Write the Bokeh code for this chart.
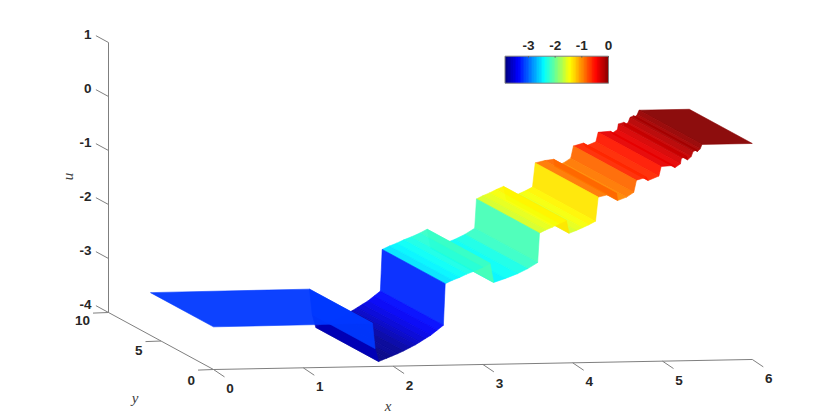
import math
import numpy as np
from bokeh.plotting import figure
from bokeh.embed import file_html
from bokeh.resources import INLINE
from bokeh.models import ColumnDataSource, Range1d
from bokeh.core.properties import value
from bokeh.transform import linear_cmap

# profile u(x) (surface is extruded along y)
x_vals = [0.00, 1.77, 1.80, 1.84, 1.88, 1.93, 1.99, 2.05, 2.12, 2.19, 2.25, 2.30, 2.36, 2.42, 2.49, 2.56, 2.58, 2.66, 2.74, 2.82, 2.90, 3.00, 3.08, 3.12, 3.25, 3.385, 3.50,
          3.61, 3.63, 3.70, 3.775, 3.85, 3.93, 3.96, 4.04, 4.11, 4.18, 4.254, 4.284, 4.39, 4.49, 4.50, 4.60, 4.68, 4.71, 4.82, 4.84, 4.96,
          4.985, 5.12, 5.14, 5.20, 5.21, 5.27, 5.28, 5.32, 5.34, 5.38, 5.39, 5.42, 5.44, 6.00]
u_vals = [-3.21, -3.20, -3.67, -3.91, -3.88, -3.85, -3.81, -3.77, -3.72, -3.66, -3.61, -3.56, -3.50, -3.44, -3.35, -3.26, -2.49, -2.43, -2.38, -2.32, -2.27, -2.20, -2.13, -2.485,
          -2.415, -2.33, -2.24, -2.13, -1.587, -1.53, -1.48, -1.42, -1.364, -1.60, -1.55, -1.50, -1.45, -1.385, -0.94, -0.90, -0.88, -1.01, -0.95,
          -0.864, -0.64, -0.59, -0.65, -0.57, -0.395, -0.38, -0.42, -0.35, -0.25, -0.22, -0.28, -0.22, -0.13, -0.10,
          -0.13, -0.08, 0.00, 0.00]
y_span = [0, 6]
x_ticks = [0, 1, 2, 3, 4, 5, 6]
y_ticks = [0, 5, 10]
u_ticks = [-4, -3, -2, -1, 0, 1]
cbar_ticks = [-3, -2, -1, 0]
cbar_low, cbar_high = -3.88, 0.0

# MATLAB-style jet colormap with 64 levels
def jet(t):
    r = min(max(min(4 * t - 1.5, -4 * t + 4.5), 0), 1)
    g = min(max(min(4 * t - 0.5, -4 * t + 3.5), 0), 1)
    b = min(max(min(4 * t + 0.5, -4 * t + 2.5), 0), 1)
    return "#%02x%02x%02x" % (round(r * 255), round(g * 255), round(b * 255))
palette = [jet((i + 0.5) / 64) for i in range(64)]

# orthographic view of the 3-D box onto page pixels
def proj(x, y, u):
    return 213 + 89.8 * x - 10.5 * y, 369 - 1.67 * x - 5.7 * y - 54 * (u + 4)

p = figure(width=814, height=412, x_range=Range1d(0, 814), y_range=Range1d(412, 0),
           x_axis_location=None, y_axis_location=None, toolbar_location=None,
           output_backend="svg", min_border=0, outline_line_color=None, background_fill_color="white")
p.grid.visible = False

AX = "#7f7f7f"
# box lines
lx, ly = [], []
def seg(a, b):
    lx.append([a[0], b[0]]); ly.append([a[1], b[1]])
seg(proj(0, 0, -4), proj(6, 0, -4))
seg(proj(0, 0, -4), proj(0, 10, -4))
seg(proj(0, 10, -4), proj(0, 10, 1))
for t in x_ticks:
    a = proj(t, 0, -4)
    seg(a, (a[0] + 11, a[1] + 7.4))
for t in y_ticks:
    a = proj(0, t, -4)
    seg(a, (a[0] - 15.5, a[1] + 0.6))
for t in u_ticks:
    seg(proj(0, 10, t), proj(0, 11.2, t))
p.multi_line(lx, ly, line_color=AX, line_width=1)

# surface: one flat strip per pair of profile points, far to near, coloured by first point
xs, ys, cs = [], [], []
for i in range(len(x_vals) - 2, -1, -1):
    a, b = (x_vals[i], u_vals[i]), (x_vals[i + 1], u_vals[i + 1])
    c = [proj(a[0], y_span[0], a[1]), proj(b[0], y_span[0], b[1]), proj(b[0], y_span[1], b[1]), proj(a[0], y_span[1], a[1])]
    xs.append([q[0] for q in c]); ys.append([q[1] for q in c]); cs.append(a[1])
src = ColumnDataSource(dict(xs=xs, ys=ys, c=cs))
cmap = linear_cmap("c", palette, cbar_low, cbar_high)
p.patches("xs", "ys", source=src, fill_color=cmap, fill_alpha=0.95, line_color=cmap, line_alpha=0.95, line_width=0.6)

# colour bar
cx0, cx1, cy0, cy1 = 504.5, 608.0, 55.7, 82.7
def cbx(v):
    return cx0 + (v - cbar_low) / (cbar_high - cbar_low) * (cx1 - cx0)
p.image(image=[np.linspace(cbar_low, cbar_high, 64).reshape(1, 64)], x=cx0, y=cy0, dw=cx1 - cx0, dh=cy1 - cy0,
        palette=palette, dw_units="data", dh_units="data")
p.quad(left=[cx0], right=[cx1], top=[cy0], bottom=[cy1], fill_color=None, line_color="#808080", line_width=1)
p.segment([cbx(t) for t in cbar_ticks], [cy0] * 4, [cbx(t) for t in cbar_ticks], [cy0 + 1.5] * 4, line_color="#606060", line_width=1)

# texts
F = value("Liberation Sans")
def labels(x, y, s, align):
    p.text(x, y, text=s, text_font=F, text_font_size="13.5px", text_font_style="bold", text_color="#262626",
           text_align=align, text_baseline="middle")
labels([proj(t, 0, -4)[0] + 16.5 for t in x_ticks], [proj(t, 0, -4)[1] + 19 for t in x_ticks], [str(t) for t in x_ticks], "center")
labels([proj(0, t, -4)[0] - 18.5 for t in y_ticks], [proj(0, t, -4)[1] + 11 - 0.3 * t for t in y_ticks], [str(t) for t in y_ticks], "right")
labels([91] * 6, [proj(0, 10, t)[1] - 8 for t in u_ticks], [str(t) for t in u_ticks], "right")
labels([cbx(t) for t in cbar_ticks], [45] * 4, [str(t) for t in cbar_ticks], "center")

S = value("Liberation Serif")
p.text([387.5], [405], text=["x"], text_font=S, text_font_size="15px", text_font_style="italic", text_color="#404040", text_align="center", text_baseline="middle")
p.text([134.5], [397], text=["y"], text_font=S, text_font_size="15px", text_font_style="italic", text_color="#404040", text_align="center", text_baseline="middle")
p.text([67], [176], text=["u"], angle=[math.pi / 2], text_font=S, text_font_size="15px", text_font_style="italic", text_color="#404040", text_align="center", text_baseline="middle")

open("out.html", "w").write(file_html(p, INLINE))
